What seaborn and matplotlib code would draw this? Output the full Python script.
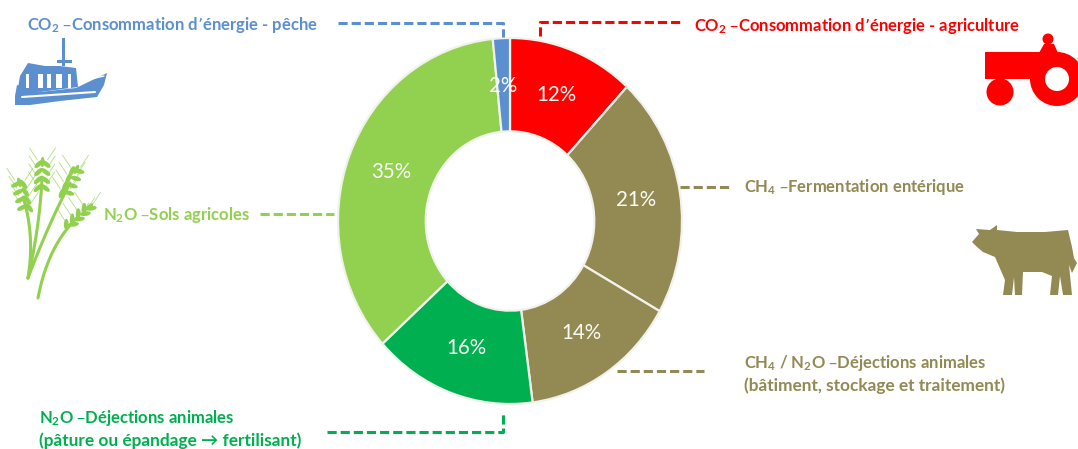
import matplotlib
matplotlib.use("Agg")
import matplotlib.pyplot as plt
from matplotlib.patches import Circle, Ellipse, Polygon, Rectangle
import numpy as np
import seaborn as sns

W, H = 1078, 449

# share of each source, clockwise from 12 o'clock (read from the slice boundaries)
sources = ["CO2 agriculture", "CH4 fermentation", "CH4/N2O dejections",
           "N2O dejections", "N2O sols", "CO2 peche"]
shares = [11.9, 21.3, 14.7, 15.4, 35.1, 1.6]
pct_labels = ["12%", "21%", "14%", "16%", "35%", "2%"]
RED, BROWN, GREEN, LIGHT, BLUE = "#FF0000", "#938953", "#00B050", "#92D050", "#5B8FD0"
slice_colors = [RED, BROWN, BROWN, GREEN, LIGHT, BLUE]

sns.set_theme(style="white")
plt.rcParams["font.family"] = ["Lato", "DejaVu Sans"]
plt.rcParams["mathtext.default"] = "regular"

fig = plt.figure(figsize=(W / 100, H / 100), dpi=100, facecolor="white")

# the ring is an ellipse in the picture: 172 px wide radius, 183 px tall radius
lim = 1.05
cx, cy, rx, ry = 510, 221, 172, 183
ax = fig.add_axes([(cx - rx * lim) / W, 1 - (cy + ry * lim) / H, 2 * rx * lim / W, 2 * ry * lim / H])
label_iter = iter(pct_labels)
wedges, _, pcts = ax.pie(
    shares, colors=sns.color_palette(slice_colors), startangle=90, counterclock=False,
    autopct=lambda p: next(label_iter), pctdistance=0.74,
    wedgeprops={"width": 0.51, "edgecolor": "#F2F2EC", "linewidth": 1.6},
    textprops={"color": "#FBFBF5", "fontsize": 14.8},
)
ax.set_aspect("auto")
ax.set_xlim(-lim, lim)
ax.set_ylim(-lim, lim)

# overlay in pixel coordinates for leader lines, captions and icons
ov = fig.add_axes([0, 0, 1, 1], zorder=3)
ov.set_xlim(0, W)
ov.set_ylim(H, 0)
ov.axis("off")
ov.patch.set_alpha(0)


def leader(xs, ys, color):
    ov.plot(xs, ys, color=color, lw=2.2, dashes=(3.0, 1.3), solid_capstyle="butt")


leader([338, 503, 503], [23, 23, 37], BLUE)
leader([540, 540, 680], [36, 22, 22], RED)
leader([680, 729], [187, 187], BROWN)
leader([617, 704], [371, 371], BROWN)
leader([327, 503, 503], [432, 432, 411], GREEN)
leader([260, 334], [214, 214], LIGHT)

# mathtext lines run wider than plain ones, hence the smaller size
cap = {"fontsize": 12.0, "fontweight": "bold", "va": "center"}
plain = {"fontsize": 12.4, "fontweight": "bold", "va": "center"}
ov.text(27, 25, "CO$_2$ –Consommation d’énergie - pêche", color=BLUE, **cap)
ov.text(694, 26, "CO$_2$ –Consommation d’énergie - agriculture", color=RED, **cap)
ov.text(744, 187, "CH$_4$ –Fermentation entérique", color=BROWN, **cap)
ov.text(744, 363, "CH$_4$ / N$_2$O –Déjections animales", color=BROWN, **cap)
ov.text(744, 386, "(bâtiment, stockage et traitement)", color=BROWN, **plain)
ov.text(103, 215, "N$_2$O –Sols agricoles", color=LIGHT, **cap)
ov.text(39, 418, "N$_2$O –Déjections animales", color=GREEN, **cap)
ov.text(39, 441, "(pâture ou épandage → fertilisant)", color=GREEN, **plain)

# tractor
ov.add_patch(Rectangle((985, 52), 65, 27, color=RED, lw=0))
ov.add_patch(Polygon([[1039, 53], [1044, 44], [1054, 44], [1058, 53]], color=RED, lw=0))
ov.add_patch(Circle((1048, 39), 5.5, color=RED, lw=0))
ov.add_patch(Circle((1000, 92), 13.5, color=RED, lw=0))
ov.add_patch(Circle((1057, 79), 27, color=RED, lw=0))
ov.add_patch(Circle((1057, 79), 12, color="white", lw=0))

# cow
cow = [[972, 242], [979, 234], [976, 229], [990, 230], [997, 225], [997, 230], [1017, 232],
       [1045, 232], [1068, 230], [1072, 247], [1074, 258], [1077, 263], [1072, 273], [1069, 265],
       [1072, 295], [1063, 295], [1060, 276], [1058, 295], [1050, 295], [1052, 276], [1042, 272],
       [1023, 272], [1022, 295], [1015, 295], [1014, 277], [1012, 295], [1003, 295], [1005, 280],
       [995, 257], [983, 252], [977, 247]]
ov.add_patch(Polygon(cow, color=BROWN, lw=0))

# boat
hull = [[15, 96], [17, 85], [40, 92], [76, 88], [107, 73], [104, 85], [97, 97], [60, 101], [30, 105], [15, 105]]
ov.add_patch(Polygon(hull, color=BLUE, lw=0))
ov.add_patch(Polygon([[20, 76], [28, 63], [45, 66], [60, 66], [76, 68], [78, 87], [40, 92], [18, 88]],
                     color=BLUE, lw=0))
ov.add_patch(Rectangle((62, 38), 2.5, 28, color=BLUE, lw=0))
ov.add_patch(Rectangle((57, 60), 15, 3, color=BLUE, lw=0))
for bx, bw in [(26, 3), (38, 5), (47, 4), (56, 6), (68, 3)]:
    ov.add_patch(Rectangle((bx, 74), bw, 14, color="white", lw=0))
ov.plot([22, 95], [97, 92], color="white", lw=1.5)
ov.plot([82, 104], [81, 76], color="white", lw=1.0)

# wheat: stem base, bend, ear position, ear tilt
stems = [((28, 278), (35, 235), (23, 197), 14), ((28, 278), (40, 225), (42, 177), -2),
         ((28, 278), (48, 225), (70, 183), -25), ((38, 298), (48, 245), (78, 217), -48)]
for (x0, y0), (x1, y1), (ex, ey), ang in stems:
    t = np.linspace(0, 1, 30)
    sx = (1 - t) ** 2 * x0 + 2 * t * (1 - t) * x1 + t ** 2 * ex
    sy = (1 - t) ** 2 * y0 + 2 * t * (1 - t) * y1 + t ** 2 * ey
    ov.plot(sx, sy, color=LIGHT, lw=2.2)
    rad = np.deg2rad(ang)
    for d in (-13, -5, 3, 11):
        px, py = ex + d * np.sin(rad), ey + d * np.cos(rad)
        for side in (-1, 1):
            ov.add_patch(Ellipse((px + side * 3.6, py), 11, 4.6, angle=ang + side * 40,
                                 color=LIGHT, lw=0))
            ov.plot([px + side * 5, px + side * 13], [py - 4 * 1, py - 16],
                    color=LIGHT, lw=0.6, alpha=0.7)
    ov.add_patch(Ellipse((ex - 15 * np.sin(rad), ey - 15 * np.cos(rad)), 4, 10, angle=-ang,
                         color=LIGHT, lw=0))

fig.savefig("out.png", dpi=100)
